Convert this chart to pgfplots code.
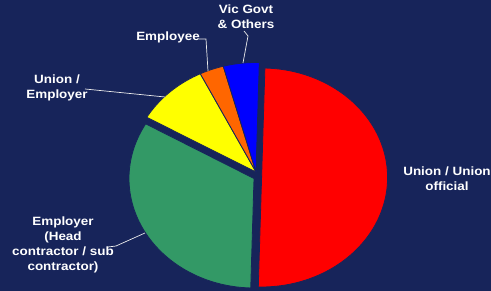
\documentclass[border=0pt]{standalone}
\usepackage{pgfplots}
\pgfplotsset{compat=1.18}
\usepackage{pgfplotstable}
\usepackage{graphicx}
\usepackage{fontspec}
\setmainfont{Liberation Sans}
\definecolor{bg}{RGB}{23,36,90}
\definecolor{sgreen}{RGB}{51,153,102}
\definecolor{sorange}{RGB}{255,102,0}
\definecolor{sblue}{RGB}{0,0,255}
\definecolor{sred}{RGB}{255,0,0}
\definecolor{syellow}{RGB}{255,255,0}
\pgfplotstableread{
name value
UnionOfficial 50.0
Employer 32.9
UnionEmployer 9.4
Employee 3.1
VicGovt 4.6
}\piedata
\newcommand\getval[2]{\pgfplotstablegetelem{#1}{value}\of\piedata\edef#2{\pgfplotsretval}}
\getval{0}\vA
\getval{1}\vB
\getval{2}\vC
\getval{3}\vD
\getval{4}\vE
\pgfmathsetmacro\aA{88.5}
\pgfmathsetmacro\aB{\aA-3.6*\vA}
\pgfmathsetmacro\aC{\aB-3.6*\vB}
\pgfmathsetmacro\aD{\aC-3.6*\vC}
\pgfmathsetmacro\aE{\aD-3.6*\vD}
\pgfmathsetmacro\aF{\aE-3.6*\vE}
\newcommand\lbl[1]{\scalebox{1.12}[1]{\fontsize{12}{15}\selectfont\bfseries\begin{tabular}{@{}c@{}}#1\end{tabular}}}
\begin{document}
\begin{tikzpicture}
\begin{axis}[
  scale only axis, width=491pt, height=291pt,
  xmin=0, xmax=491, ymin=0, ymax=291,
  hide axis, clip=false,
]
\fill[bg] (0,0) rectangle (491,291);
% slices (centres in px, y measured upward)
\addplot[fill=sred, draw=bg, line width=0.8pt, domain=\aB:\aA, samples=90] ({261.6+126*cos(x)},{113.5+109.5*sin(x)}) -- (261.6,113.5) -- cycle;
\addplot[fill=sgreen, draw=bg, line width=0.8pt, domain=\aC:\aB, samples=70] ({254+125*cos(x)},{112.5+109.5*sin(x)}) -- (254,112.5) -- cycle;
\addplot[fill=syellow, draw=bg, line width=0.8pt, domain=\aD:\aC, samples=30] ({256+126*cos(x)},{119+109.5*sin(x)}) -- (256,119) -- cycle;
\addplot[fill=sorange, draw=bg, line width=0.8pt, domain=\aE:\aD, samples=15] ({256+126*cos(x)},{119+109.5*sin(x)}) -- (256,119) -- cycle;
\addplot[fill=sblue, draw=bg, line width=0.8pt, domain=\aF:\aE, samples=20] ({256+126*cos(x)},{119+109.5*sin(x)}) -- (256,119) -- cycle;
% leader lines
\addplot[white!85!gray, line width=0.7pt] coordinates {(199,252) (206,252) (208,220)};
\addplot[white!85!gray, line width=0.7pt] coordinates {(244,260) (248,255) (243,228)};
\addplot[white!85!gray, line width=0.7pt] coordinates {(85,202) (165,194)};
\addplot[white!85!gray, line width=0.7pt] coordinates {(108,44) (116,45) (145,58)};
% labels
\node[text=white, inner sep=0pt] at (447,111) {\lbl{Union / Union\\official}};
\node[text=white, inner sep=0pt] at (63,46) {\lbl{Employer\\(Head\\contractor / sub\\contractor)}};
\node[text=white, inner sep=0pt] at (57,203) {\lbl{Union /\\Employer}};
\node[text=white, inner sep=0pt] at (168,253) {\lbl{Employee}};
\node[text=white, inner sep=0pt] at (246,273) {\lbl{Vic Govt\\\& Others}};
\end{axis}
\end{tikzpicture}
\end{document}
